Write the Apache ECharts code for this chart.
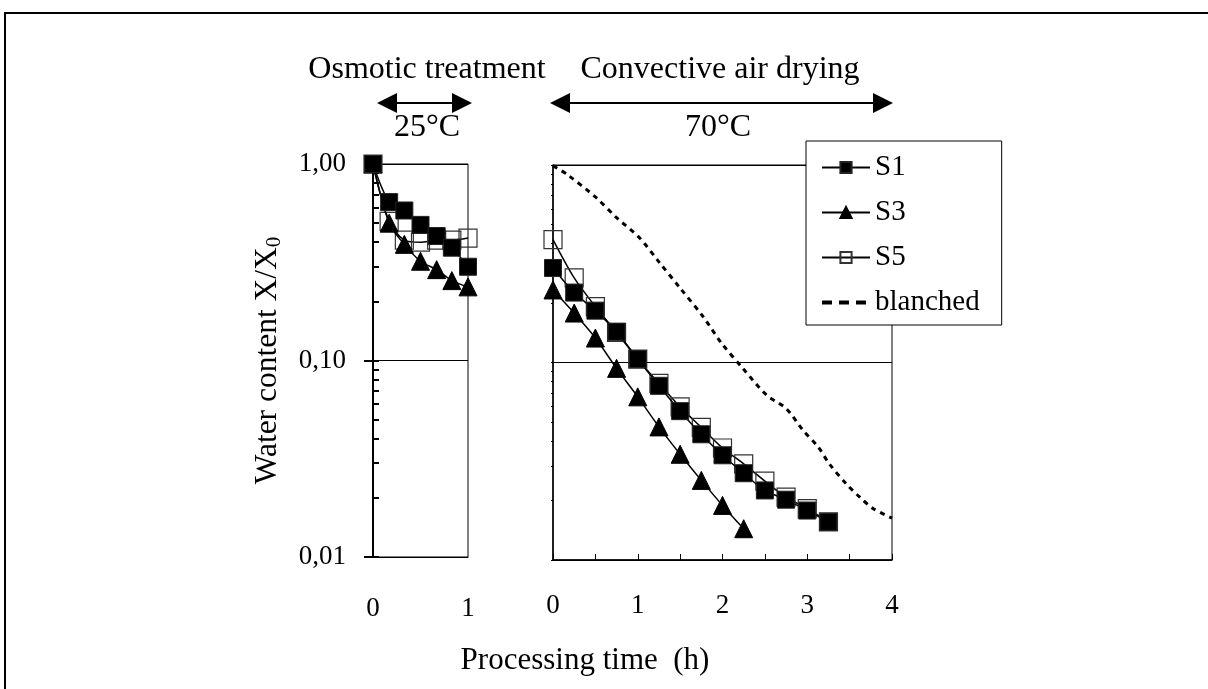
<!DOCTYPE html>
<html>
<head>
<meta charset="utf-8">
<script src="https://cdn.jsdelivr.net/npm/echarts@6/dist/echarts.min.js"></script>
<style>
html,body{margin:0;padding:0;background:#fff;}
#chart{width:1208px;height:689px;}
</style>
</head>
<body>
<div id="chart"></div>
<script>
// ---- data ----
var timeOsmotic = [0, 0.17, 0.33, 0.5, 0.67, 0.83, 1.0];
var s1Osmotic = [1.0, 0.64, 0.58, 0.49, 0.43, 0.375, 0.30];
var s3Osmotic = [1.0, 0.50, 0.39, 0.32, 0.29, 0.255, 0.237];
var s5Osmotic = [1.0, 0.51, 0.41, 0.40, 0.41, 0.41, 0.42];

var timeDrying = [0, 0.25, 0.5, 0.75, 1.0, 1.25, 1.5, 1.75, 2.0, 2.25, 2.5, 2.75, 3.0, 3.25];
var s1Drying = [0.301, 0.226, 0.183, 0.143, 0.104, 0.0762, 0.0567, 0.0433, 0.0339, 0.0275, 0.0225, 0.0202, 0.0178, 0.0156];
var s3Drying = [0.233, 0.178, 0.133, 0.0934, 0.067, 0.0472, 0.0343, 0.0253, 0.0189, 0.0144];
var s5Drying = [0.419, 0.268, 0.192, 0.142, 0.104, 0.0784, 0.0596, 0.0469, 0.0369, 0.0307, 0.0251, 0.0208, 0.0182, 0.0156];

var timeBlanched = [0, 0.16, 0.51, 0.75, 1.02, 1.26, 1.5, 1.77, 1.99, 2.24, 2.52, 2.75, 2.95, 3.13, 3.26, 3.46, 3.62, 3.78, 4.0];
var blanched = [0.99, 0.90, 0.683, 0.541, 0.428, 0.319, 0.238, 0.171, 0.125, 0.0934, 0.0684, 0.0585, 0.0454, 0.0373, 0.0307, 0.0243, 0.0208, 0.0182, 0.0163];

var yMinorTicks = [0.01,0.02,0.03,0.04,0.05,0.06,0.07,0.08,0.09,0.1,0.2,0.3,0.4,0.5,0.6,0.7,0.8,0.9,1];
var leftXTicks = [0, 1];
var rightXTicks = [0, 1, 2, 3, 4];

function pairs(xs, ys) { return ys.map(function (v, i) { return [xs[i], v]; }); }

var FONT = 'Liberation Serif';
var lineBase = { color: '#000', width: 1.5 };

function mkSeries(name, xs, ys, xi, yi, kind) {
  var s = {
    name: name, type: 'line', xAxisIndex: xi, yAxisIndex: yi,
    data: pairs(xs, ys), smooth: 0.3, lineStyle: lineBase, z: 3
  };
  if (kind === 'S1') { s.symbol = 'rect'; s.symbolSize = 17; s.itemStyle = { color: '#000', borderColor: '#222', borderWidth: 1 }; s.z = 5; }
  if (kind === 'S3') { s.symbol = 'triangle'; s.symbolSize = 18; s.itemStyle = { color: '#000', borderColor: '#000', borderWidth: 1 }; s.z = 4; }
  if (kind === 'S5') { s.symbol = 'rect'; s.symbolSize = 18; s.itemStyle = { color: 'rgba(255,255,255,0)', borderColor: '#333', borderWidth: 1.2 }; s.z = 3; }
  return s;
}

var chart = echarts.init(document.getElementById('chart'), null, { renderer: 'canvas' });

var option = {
  backgroundColor: '#fff',
  animation: false,
  textStyle: { fontFamily: FONT, color: '#000' },
  grid: [
    { left: 373, top: 164, width: 95, height: 393, show: true, borderColor: '#000', borderWidth: 1, backgroundColor: 'transparent' },
    { left: 553, top: 165, width: 339, height: 395, show: true, borderColor: '#000', borderWidth: 1, backgroundColor: 'transparent' }
  ],
  xAxis: [
    { gridIndex: 0, type: 'value', min: leftXTicks[0], max: leftXTicks[leftXTicks.length - 1], interval: 1,
      axisLine: { lineStyle: { color: '#000', width: 1 } }, axisTick: { show: false },
      axisLabel: { color: '#000', fontFamily: FONT, fontSize: 27, margin: 38 }, splitLine: { show: false } },
    { gridIndex: 1, type: 'value', min: rightXTicks[0], max: rightXTicks[rightXTicks.length - 1], interval: 0.5,
      axisLine: { lineStyle: { color: '#000', width: 1.5 } },
      axisTick: { inside: true, length: 6, lineStyle: { color: '#000', width: 1 } },
      axisLabel: { color: '#000', fontFamily: FONT, fontSize: 27, margin: 32,
        formatter: function (v) { return Math.abs(v - Math.round(v)) < 1e-9 ? String(Math.round(v)) : ''; } },
      splitLine: { show: false } }
  ],
  yAxis: [
    { gridIndex: 0, type: 'log', logBase: 10, min: 0.01, max: 1, position: 'left',
      name: 'Water content X/X{sub|0}', nameLocation: 'middle', nameGap: 88,
      nameTextStyle: { fontFamily: FONT, fontSize: 31.5, color: '#000',
        rich: { sub: { fontFamily: FONT, fontSize: 21, color: '#000', padding: [14, 0, 0, 0] } } },
      axisLine: { show: true, lineStyle: { color: '#000', width: 2 } },
      axisTick: { show: true, length: 9, lineStyle: { color: '#000', width: 2 } },
      axisLabel: { color: '#000', fontFamily: FONT, fontSize: 27, margin: 27,
        formatter: function (v) { return v.toFixed(2).replace('.', ','); } },
      splitLine: { show: true, lineStyle: { color: '#000', width: 1 } } },
    { gridIndex: 0, type: 'log', logBase: 10, min: 0.01, max: 1, position: 'left',
      axisLine: { show: false },
      axisTick: { show: true, inside: true, length: 6, customValues: yMinorTicks, lineStyle: { color: '#000', width: 2 } },
      axisLabel: { show: false }, splitLine: { show: false } },
    { gridIndex: 1, type: 'log', logBase: 10, min: 0.01, max: 1, position: 'left',
      axisLine: { show: true, lineStyle: { color: '#000', width: 1.5 } },
      axisTick: { show: false }, axisLabel: { show: false },
      splitLine: { show: true, lineStyle: { color: '#000', width: 1 } } },
    { gridIndex: 1, type: 'log', logBase: 10, min: 0.01, max: 1, position: 'left',
      axisLine: { show: false },
      axisTick: { show: true, length: 2, customValues: yMinorTicks, lineStyle: { color: '#000', width: 1 } },
      axisLabel: { show: false }, splitLine: { show: false } }
  ],
  legend: {
    left: 806, top: 141, orient: 'vertical',
    backgroundColor: '#fff', borderColor: '#000', borderWidth: 1,
    padding: [12, 22, 8, 14], itemWidth: 48, itemHeight: 14, itemGap: 16,
    textStyle: { fontFamily: FONT, fontSize: 29, color: '#000' },
    data: [
      { name: 'S1' }, { name: 'S3' }, { name: 'S5' },
      { name: 'blanched', itemStyle: { color: 'rgba(0,0,0,0)', borderColor: 'rgba(0,0,0,0)', borderWidth: 0 },
        lineStyle: { type: [10, 7], width: 4, color: '#000' } }
    ],
    selectedMode: false, z: 10
  },
  series: [
    mkSeries('S5', timeOsmotic, s5Osmotic, 0, 0, 'S5'),
    mkSeries('S3', timeOsmotic, s3Osmotic, 0, 0, 'S3'),
    mkSeries('S1', timeOsmotic, s1Osmotic, 0, 0, 'S1'),
    mkSeries('S5', timeDrying, s5Drying, 1, 2, 'S5'),
    mkSeries('S3', timeDrying, s3Drying, 1, 2, 'S3'),
    mkSeries('S1', timeDrying, s1Drying, 1, 2, 'S1'),
    { name: 'blanched', type: 'line', xAxisIndex: 1, yAxisIndex: 2, data: pairs(timeBlanched, blanched),
      smooth: 0.3, showSymbol: false, symbol: 'none',
      lineStyle: { color: '#000', width: 3, type: [5, 5] }, itemStyle: { color: '#000' }, z: 2 }
  ],
  graphic: [
    { type: 'rect', silent: true, shape: { x: 5, y: 13, width: 1400, height: 1000 },
      style: { fill: 'none', stroke: '#000', lineWidth: 2 }, z: 0 },
    { type: 'text', x: 427, y: 70, style: { text: 'Osmotic treatment', font: '32px "Liberation Serif"', fill: '#000', textAlign: 'center', textVerticalAlign: 'middle' } },
    { type: 'text', x: 720, y: 70, style: { text: 'Convective air drying', font: '32px "Liberation Serif"', fill: '#000', textAlign: 'center', textVerticalAlign: 'middle' } },
    { type: 'text', x: 427, y: 128, style: { text: '25°C', font: '32px "Liberation Serif"', fill: '#000', textAlign: 'center', textVerticalAlign: 'middle' } },
    { type: 'text', x: 718, y: 128, style: { text: '70°C', font: '32px "Liberation Serif"', fill: '#000', textAlign: 'center', textVerticalAlign: 'middle' } },
    { type: 'text', x: 585, y: 661, style: { text: 'Processing time  (h)', font: '31px "Liberation Serif"', fill: '#000', textAlign: 'center', textVerticalAlign: 'middle' } },
    { type: 'line', shape: { x1: 395, y1: 103, x2: 454, y2: 103 }, style: { stroke: '#000', lineWidth: 2 } },
    { type: 'polygon', shape: { points: [[377, 103], [397, 93], [397, 113]] }, style: { fill: '#000' } },
    { type: 'polygon', shape: { points: [[472, 103], [452, 93], [452, 113]] }, style: { fill: '#000' } },
    { type: 'line', shape: { x1: 568, y1: 103, x2: 875, y2: 103 }, style: { stroke: '#000', lineWidth: 2 } },
    { type: 'polygon', shape: { points: [[550, 103], [570, 93], [570, 113]] }, style: { fill: '#000' } },
    { type: 'polygon', shape: { points: [[893, 103], [873, 93], [873, 113]] }, style: { fill: '#000' } }
  ]
};
chart.setOption(option);
</script>
</body>
</html>
